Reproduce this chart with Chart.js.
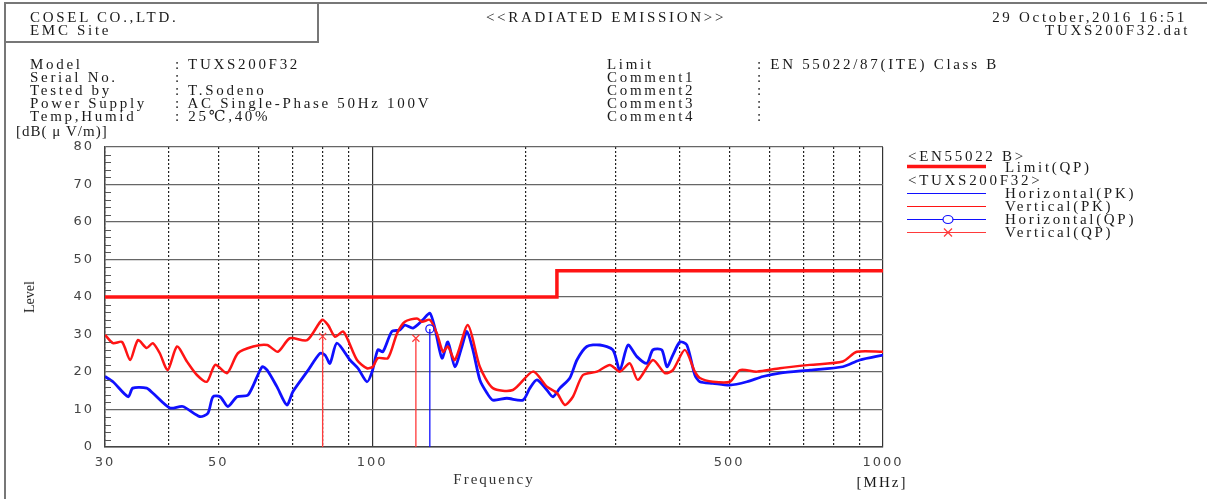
<!DOCTYPE html>
<html>
<head>
<meta charset="utf-8">
<title>Radiated Emission</title>
<script src="https://cdn.jsdelivr.net/npm/chart.js@4.4.1/dist/chart.umd.min.js"></script>
<style>
  body { margin: 0; background: #fff; width: 1207px; height: 499px; overflow: hidden; position: relative;
         font-family: "Liberation Serif", "DejaVu Serif", serif; color: #1a1a1a; }
  #c { position: absolute; left: 0; top: 0; }
  .ln { position: absolute; background: #777; }
  .t { position: absolute; font-size: 15px; line-height: 14px; height: 14px; letter-spacing: 2.7px; white-space: pre; }
  .r { text-align: right; }
</style>
</head>
<body>
<canvas id="c" width="1207" height="499"></canvas>

<div class="ln" style="left:4px;top:2px;width:1203px;height:2px"></div>
<div class="ln" style="left:4px;top:2px;width:2px;height:497px"></div>
<div class="ln" style="left:317px;top:2px;width:2px;height:41px"></div>
<div class="ln" style="left:4px;top:41px;width:315px;height:2px"></div>

<div class="t" style="left:30px;top:10px">COSEL CO.,LTD.</div>
<div class="t" style="left:30px;top:23px">EMC Site</div>
<div class="t" style="left:606px;top:10px;transform:translateX(-50%)">&lt;&lt;RADIATED EMISSION&gt;&gt;</div>
<div class="t r" style="right:20px;top:10px">29 October,2016 16:51</div>
<div class="t r" style="right:17px;top:23px">TUXS200F32.dat</div>

<div class="t" style="left:30px;top:57px">Model</div>
<div class="t" style="left:30px;top:70px">Serial No.</div>
<div class="t" style="left:30px;top:83px">Tested by</div>
<div class="t" style="left:30px;top:96px">Power Supply</div>
<div class="t" style="left:30px;top:109px">Temp,Humid</div>
<div class="t" style="left:175px;top:57px">: TUXS200F32</div>
<div class="t" style="left:175px;top:70px">:</div>
<div class="t" style="left:175px;top:83px">: T.Sodeno</div>
<div class="t" style="left:175px;top:96px">: AC Single-Phase 50Hz 100V</div>
<div class="t" style="left:175px;top:109px">: 25℃,40%</div>

<div class="t" style="left:607px;top:57px">Limit</div>
<div class="t" style="left:607px;top:70px">Comment1</div>
<div class="t" style="left:607px;top:83px">Comment2</div>
<div class="t" style="left:607px;top:96px">Comment3</div>
<div class="t" style="left:607px;top:109px">Comment4</div>
<div class="t" style="left:757px;top:57px">: EN 55022/87(ITE) Class B</div>
<div class="t" style="left:757px;top:70px">:</div>
<div class="t" style="left:757px;top:83px">:</div>
<div class="t" style="left:757px;top:96px">:</div>
<div class="t" style="left:757px;top:109px">:</div>

<div class="t" style="left:16px;top:124px;letter-spacing:1px">[dB( μ V/m)]</div>
<div class="t" style="left:30px;top:297px;letter-spacing:0;font-size:14px;transform:translate(-50%,-50%) rotate(-90deg);transform-origin:50% 50%">Level</div>
<div class="t" style="left:882px;top:475px;transform:translateX(-50%);letter-spacing:2px">[MHz]</div>

<div class="t" style="left:908px;top:149px">&lt;EN55022 B&gt;</div>
<div class="t" style="left:1005px;top:160px">Limit(QP)</div>
<div class="t" style="left:908px;top:173px">&lt;TUXS200F32&gt;</div>
<div class="t" style="left:1005px;top:186px">Horizontal(PK)</div>
<div class="t" style="left:1005px;top:199px">Vertical(PK)</div>
<div class="t" style="left:1005px;top:212px">Horizontal(QP)</div>
<div class="t" style="left:1005px;top:225px">Vertical(QP)</div>

<script>
// limit line EN55022 class B (QP)
const limitFreq  = [30, 230, 230, 1000];
const limitLevel = [40, 40, 47, 47];

// Horizontal peak trace
const hpkFreq  = [30.0, 31.1, 33.3, 34.0, 36.2, 37.2, 40.2, 42.6, 46.0, 47.7, 48.8, 50.4, 52.2, 54.4, 57.2,
                  60.9, 62.3, 65.1, 68.1, 70.0, 74.6, 79.1, 80.9, 82.7, 85.3, 90.5, 93.8, 97.7, 100,
                  102.6, 105.0, 109.3, 113.3, 115.9, 120.2, 125.7, 129.7, 132.7, 137.0, 140.7, 145.2, 149.9,
                  153.3, 157.5, 162.5, 167.8, 172.3, 183.5, 197.3, 203.6, 210.2, 219.8, 225.9, 233.1, 243.8,
                  251.7, 263.2, 279.1, 296.0, 305.4, 316.8, 329.8, 345.0, 354.4, 369.0, 377.6, 387.8, 400.3,
                  413.1, 428.3, 438.1, 464.4, 501.5, 541.5, 582.0, 628.2, 719.2, 834.3, 900.6, 1000];
const hpkLevel = [18.8, 17.4, 13.4, 15.7, 15.7, 14.4, 10.4, 10.8, 8.1, 9.0, 13.4, 13.4, 10.8, 13.4, 13.9,
                  21.4, 20.5, 16.1, 11.2, 14.8, 20.1, 25.0, 24.5, 22.3, 27.7, 23.2, 21.0, 17.4, 20.1,
                  25.9, 25.4, 30.8, 31.2, 32.5, 31.7, 33.9, 35.7, 31.7, 23.7, 28.0, 21.4, 26.8,
                  30.8, 25.9, 17.9, 14.4, 12.5, 13.0, 12.5, 15.7, 17.9, 15.2, 13.4, 15.7, 18.4,
                  23.2, 26.8, 27.2, 25.9, 20.5, 27.2, 24.1, 22.3, 25.9, 25.9, 21.4, 24.5, 28.0,
                  27.2, 19.2, 17.4, 17.0, 16.5, 17.4, 18.8, 19.7, 20.5, 21.4, 23.2, 24.5];

// Vertical peak trace
const vpkFreq  = [30.0, 31.1, 32.4, 33.6, 34.8, 36.2, 37.2, 38.4, 39.8, 41.5, 43.4, 45.4, 47.5, 49.3, 52.0,
                  54.6, 58.5, 62.3, 65.4, 69.0, 74.6, 79.8, 82.0, 84.6, 87.7, 89.7, 93.4, 97.7, 100.3,
                  102.6, 107.4, 111.9, 115.9, 122.4, 125.2, 129.7, 133.9, 137.6, 140.7, 145.2, 154.0, 162.5,
                  172.3, 188.6, 206.4, 219.8, 230.0, 238.4, 247.2, 258.6, 275.4, 292.0, 305.4, 319.5, 331.3,
                  354.4, 374.1, 387.8, 409.4, 428.3, 438.1, 464.4, 501.5, 524.8, 566.2, 628.2, 719.2, 834.3,
                  888.7, 1000];
const vpkLevel = [29.9, 27.7, 28.0, 23.2, 28.5, 26.4, 27.7, 25.0, 20.5, 26.8, 22.8, 19.2, 17.4, 21.9, 19.7,
                  25.0, 26.8, 27.2, 25.4, 29.0, 28.5, 33.9, 32.5, 29.4, 30.8, 28.5, 23.2, 21.0, 21.4,
                  23.7, 23.7, 30.3, 33.4, 34.3, 33.4, 33.9, 30.3, 25.4, 26.8, 23.2, 32.5, 21.4,
                  15.7, 15.2, 20.1, 16.1, 14.4, 11.2, 13.4, 19.2, 20.1, 21.9, 20.1, 22.3, 17.9,
                  23.2, 19.7, 20.5, 25.9, 20.1, 18.4, 17.4, 17.4, 20.5, 20.1, 21.0, 21.9, 22.8,
                  25.4, 25.4];

// quasi-peak results
const qpHFreq  = [129.7];
const qpHLevel = [31.5];
const qpVFreq  = [80.0, 121.8];
const qpVLevel = [29.5, 29.0];

// axes
const xGridValues  = [30, 40, 50, 60, 70, 80, 90, 100, 200, 300, 400, 500, 600, 700, 800, 900, 1000];
const xLabelValues = [30, 50, 100, 500, 1000];
const xSolidValues = [100, 1000];
const yMin = 0, yMax = 80, yStep = 10, yMinorStep = 2;

const RED = '#ff1414';
const BLUE = '#1010ff';

function toPoints(fs, ls) {
  return fs.map((f, i) => ({ x: f, y: ls[i] }));
}
// each QP result is a line from the floor up to the reading, gaps between them
function dropLines(fs, ls) {
  const out = [];
  fs.forEach((f, i) => { out.push({ x: f, y: yMin }, { x: f, y: ls[i] }, { x: f, y: null }); });
  return out;
}
const topPointRadius = r => c => (c.raw && c.raw.y > yMin ? r : 0);

const minorTicks = {
  id: 'minorTicks',
  beforeDraw(chart) {
    chart.ctx.letterSpacing = '2px';
  },
  afterDraw(chart) {
    const { ctx, chartArea, scales: { y } } = chart;
    ctx.save();
    ctx.strokeStyle = '#555';
    ctx.lineWidth = 1;
    for (let v = yMin; v <= yMax; v += yMinorStep) {
      if (v % yStep === 0) continue;
      const py = Math.round(y.getPixelForValue(v)) + 0.5;
      ctx.beginPath();
      ctx.moveTo(chartArea.left, py);
      ctx.lineTo(chartArea.left + 6, py);
      ctx.stroke();
    }
    ctx.restore();
  }
};

// legend samples, drawn with the dataset colours
const legendRows = [[0, 166], [2, 193], [1, 206], [4, 219], [3, 232]];
const legendSamples = {
  id: 'legendSamples',
  afterDraw(chart) {
    const ctx = chart.ctx;
    ctx.save();
    for (const [i, y] of legendRows) {
      const ds = chart.data.datasets[i];
      ctx.strokeStyle = ds.borderColor;
      ctx.lineWidth = ds.legendWidth;
      ctx.beginPath();
      ctx.moveTo(907, y + 0.5);
      ctx.lineTo(986, y + 0.5);
      ctx.stroke();
      ctx.lineWidth = 1.2;
      if (ds.pointStyle === 'circle') {
        ctx.beginPath();
        ctx.ellipse(948, y + 0.5, 5, 4, 0, 0, Math.PI * 2);
        ctx.fillStyle = '#fff';
        ctx.fill();
        ctx.stroke();
      } else if (ds.pointStyle === 'crossRot') {
        ctx.beginPath();
        ctx.moveTo(944, y - 3.5); ctx.lineTo(952, y + 4.5);
        ctx.moveTo(952, y - 3.5); ctx.lineTo(944, y + 4.5);
        ctx.stroke();
      }
    }
    ctx.restore();
  }
};

new Chart(document.getElementById('c'), {
  type: 'line',
  data: {
    datasets: [
      { label: 'Limit(QP)', data: toPoints(limitFreq, limitLevel), borderColor: RED, borderWidth: 3.5,
        legendWidth: 3.5, pointRadius: 0, tension: 0, order: 0 },
      { label: 'Vertical(PK)', data: toPoints(vpkFreq, vpkLevel), borderColor: RED, borderWidth: 2.5,
        legendWidth: 1.2, pointRadius: 0, tension: 0.25, order: 1 },
      { label: 'Horizontal(PK)', data: toPoints(hpkFreq, hpkLevel), borderColor: BLUE, borderWidth: 2.8,
        legendWidth: 1.2, pointRadius: 0, tension: 0.25, order: 2 },
      { label: 'Vertical(QP)', data: dropLines(qpVFreq, qpVLevel), borderColor: '#ff3a3a', borderWidth: 1.3,
        legendWidth: 1.2, pointStyle: 'crossRot', pointRadius: topPointRadius(5), pointBorderWidth: 1.2,
        spanGaps: false, tension: 0, order: 0 },
      { label: 'Horizontal(QP)', data: dropLines(qpHFreq, qpHLevel), borderColor: BLUE, borderWidth: 1.3,
        legendWidth: 1.2, pointStyle: 'circle', pointRadius: topPointRadius(4), pointBorderWidth: 1.2,
        pointBackgroundColor: 'rgba(255,255,255,0)', spanGaps: false, tension: 0, order: 0 }
    ]
  },
  options: {
    responsive: false,
    animation: false,
    devicePixelRatio: 1,
    layout: { padding: { left: 0, top: 147, right: 324, bottom: 0 } },
    plugins: { legend: { display: false }, tooltip: { enabled: false } },
    scales: {
      x: {
        type: 'logarithmic',
        min: 30,
        max: 1000,
        afterBuildTicks: s => { s.ticks = xGridValues.map(v => ({ value: v })); },
        afterFit: s => { s.height = 52; },
        ticks: {
          autoSkip: false,
          maxRotation: 0,
          padding: 8,
          color: '#444',
          font: { family: 'DejaVu Sans', size: 13 },
          callback: v => (xLabelValues.includes(v) ? String(v) : '')
        },
        grid: {
          drawTicks: false,
          color: c => (c.tick && xSolidValues.includes(c.tick.value) ? '#333' : '#222'),
          lineWidth: 1.2
        },
        border: {
          color: '#444',
          width: 1.5,
          dash: c => (c.tick && !xSolidValues.includes(c.tick.value) ? [2, 2] : [])
        },
        title: {
          display: true,
          text: 'Frequency',
          color: '#333',
          font: { family: 'Liberation Serif', size: 15 },
          padding: { top: 0, bottom: 9.6 }
        }
      },
      y: {
        min: yMin,
        max: yMax,
        afterFit: s => { s.width = 105; },
        ticks: {
          stepSize: yStep,
          padding: 11,
          color: '#444',
          font: { family: 'DejaVu Sans', size: 13 }
        },
        grid: { drawTicks: false, color: '#666', lineWidth: 1.2 },
        border: { color: '#444', width: 1.5 }
      }
    }
  },
  plugins: [minorTicks, legendSamples]
});
</script>
</body>
</html>
